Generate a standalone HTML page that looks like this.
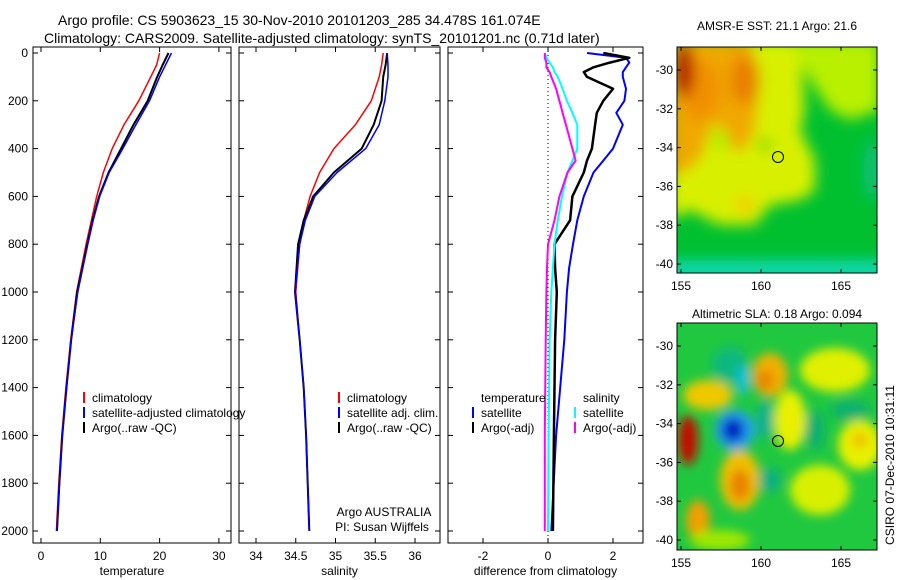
<!DOCTYPE html>
<html><head><meta charset="utf-8">
<style>
html,body{margin:0;padding:0;background:#fff}
svg{display:block;font-family:"Liberation Sans",sans-serif}
</style></head>
<body>
<svg id="fig" width="900" height="580" viewBox="0 0 900 580" xmlns="http://www.w3.org/2000/svg">
<defs>
<filter id="bl1" x="-20%" y="-20%" width="140%" height="140%"><feGaussianBlur stdDeviation="7"/></filter>
<filter id="bl2" x="-20%" y="-20%" width="140%" height="140%"><feGaussianBlur stdDeviation="5"/></filter>
<clipPath id="c1"><rect x="677" y="47" width="200" height="226"/></clipPath>
<clipPath id="c2"><rect x="677" y="323" width="200" height="227"/></clipPath>
</defs>
<text x="58" y="25" font-size="14">Argo profile: CS 5903623_15 30-Nov-2010 20101203_285 34.478S 161.074E</text>
<text x="44" y="43" font-size="14">Climatology: CARS2009. Satellite-adjusted climatology: synTS_20101201.nc (0.71d later)</text>

<g>
<g clip-path="url(#c1)">
<rect x="677" y="47" width="200" height="226" fill="#00c030"/>
<g filter="url(#bl1)">
<path d="M670 40 L800 40 L805 110 L800 130 L815 160 L815 190 L800 200 L770 205 L755 225 L720 225 L690 210 L670 220 Z" fill="#d8f000"/>
<path d="M790 40 L880 40 L880 110 L850 120 L830 110 L810 80 Z" fill="#b8f000"/>
<path d="M670 40 L750 40 L760 80 L755 130 L745 150 L730 150 L715 120 L700 160 L680 175 L670 175 Z" fill="#f0a800"/>
<ellipse cx="700" cy="90" rx="20" ry="30" fill="#f09000"/>
<ellipse cx="745" cy="80" rx="15" ry="25" fill="#e88000"/>
<ellipse cx="684" cy="70" rx="10" ry="28" fill="#b01000"/>
<ellipse cx="720" cy="140" rx="10" ry="10" fill="#b0f000"/>
<ellipse cx="765" cy="145" rx="6" ry="6" fill="#40d000"/>
<ellipse cx="745" cy="205" rx="10" ry="10" fill="#f0d000"/>
<rect x="670" y="260" width="215" height="20" fill="#10d8b0"/>
<ellipse cx="872" cy="170" rx="8" ry="30" fill="#10c080"/>
</g>
</g>
<rect x="677" y="47" width="200" height="226" fill="none" stroke="#000"/>
<circle cx="778" cy="157" r="5.5" fill="none" stroke="#000"/>
<text x="777" y="30" font-size="12" text-anchor="middle">AMSR-E SST: 21.1 Argo: 21.6</text>
</g>

<g>
<g clip-path="url(#c2)">
<rect x="677" y="323" width="200" height="227" fill="#20c840"/>
<g filter="url(#bl2)">
<ellipse cx="835" cy="370" rx="35" ry="22" fill="#e0f000"/>
<ellipse cx="770" cy="375" rx="18" ry="22" fill="#f0b000"/>
<ellipse cx="765" cy="380" rx="8" ry="10" fill="#e88000"/>
<ellipse cx="708" cy="395" rx="25" ry="15" fill="#f0c800"/>
<ellipse cx="688" cy="440" rx="10" ry="25" fill="#c01000"/>
<ellipse cx="735" cy="430" rx="20" ry="20" fill="#20a0f0"/>
<ellipse cx="733" cy="430" rx="11" ry="12" fill="#0020c0"/>
<ellipse cx="740" cy="480" rx="20" ry="30" fill="#f0c000"/>
<ellipse cx="740" cy="485" rx="10" ry="16" fill="#e88000"/>
<ellipse cx="698" cy="520" rx="12" ry="20" fill="#f0a000"/>
<ellipse cx="790" cy="420" rx="16" ry="30" fill="#e8f000"/>
<ellipse cx="860" cy="445" rx="22" ry="25" fill="#e8f000"/>
<ellipse cx="860" cy="440" rx="8" ry="8" fill="#f0c000"/>
<ellipse cx="820" cy="490" rx="30" ry="25" fill="#d8f000"/>
<ellipse cx="730" cy="365" rx="18" ry="18" fill="#10b880"/>
<ellipse cx="743" cy="380" rx="6" ry="15" fill="#10c0e0"/>
<ellipse cx="765" cy="420" rx="8" ry="20" fill="#10b090"/>
<ellipse cx="770" cy="480" rx="12" ry="12" fill="#10b080"/>
<ellipse cx="815" cy="430" rx="10" ry="20" fill="#10b070"/>
<ellipse cx="850" cy="410" rx="20" ry="10" fill="#10b070"/>
<ellipse cx="720" cy="540" rx="30" ry="10" fill="#a0e800"/>
</g>
</g>
<rect x="677" y="323" width="200" height="227" fill="none" stroke="#000"/>
<circle cx="778" cy="441" r="5.5" fill="none" stroke="#000"/>
<text x="777" y="318" font-size="12" text-anchor="middle">Altimetric SLA: 0.18 Argo: 0.094</text>
</g>
<text transform="translate(894,465) rotate(-90)" font-size="12" text-anchor="middle">CSIRO 07-Dec-2010 10:31:11</text>

<script>
const depths = [0,50,100,200,300,400,500,600,700,800,1000,1200,1400,1600,1800,2000];
const tempClim = [20,19.5,18.5,16.5,14,12,10.5,9.4,8.5,7.6,6,5,4.2,3.5,3,2.6];
const tempSat = [22,21,20,18.3,16,13.8,11.5,9.9,8.8,7.9,6.2,5.1,4.3,3.6,3.1,2.7];
const tempArgo = [21.5,20.5,19.6,18.0,15.6,13.5,11.4,9.8,8.7,7.8,6.1,5.1,4.3,3.6,3.1,2.7];
const salClim = [35.6,35.58,35.55,35.45,35.25,34.98,34.8,34.68,34.6,34.55,34.5,34.55,34.6,34.63,34.65,34.67];
const salSat = [35.65,35.66,35.66,35.62,35.55,35.38,35.02,34.74,34.62,34.55,34.49,34.55,34.6,34.63,34.65,34.67];
const salArgo = [35.65,35.63,35.6,35.58,35.48,35.33,34.98,34.72,34.6,34.53,34.49,34.55,34.6,34.63,34.65,34.67];
const diffDepths = [0,20,40,60,80,100,150,200,250,300,400,450,500,600,700,800,900,1000,1200,1600,2000];
const diffTSat = [1.2,2.4,2.5,2.4,2.3,2.3,2.4,2.35,2.1,2.3,2.0,1.7,1.4,1.1,0.9,0.77,0.65,0.58,0.5,0.25,0.1];
const diffTArgo = [1.7,2.5,1.9,1.4,1.1,1.2,2.0,1.7,1.5,1.45,1.35,1.2,1.1,0.75,0.68,0.2,0.22,0.27,0.22,0.18,0.15];
const diffSSat = [-0.1,-0.05,0.05,0.15,0.2,0.3,0.45,0.58,0.75,0.9,0.9,0.75,0.6,0.43,0.3,0.2,0.15,0.1,0.05,0.02,0.0];
const diffSArgo = [-0.1,-0.1,-0.05,-0.05,0.05,0.1,0.25,0.35,0.45,0.55,0.75,0.85,0.6,0.35,0.2,0.0,-0.03,-0.05,-0.07,-0.1,-0.1];
const depthTicks = [0,200,400,600,800,1000,1200,1400,1600,1800,2000];
const tempTicks = [0,10,20,30];
const salTicks = [34,34.5,35,35.5,36];
const diffTicks = [-2,0,2];
const lonTicks = [155,160,165];
const latTicks = [-30,-32,-34,-36,-38,-40];

const NS = "http://www.w3.org/2000/svg";
const svg = document.getElementById('fig');
function el(tag, attrs, parent){const e=document.createElementNS(NS,tag);for(const k in attrs)e.setAttribute(k,attrs[k]);(parent||svg).appendChild(e);return e;}
const yD = d => 53 + d*0.239;
const yTop=47,yBot=543;
const panels = [
 {name:'temperature-panel', x0:33, x1:231, xs:v=>41+v*5.93, ticks:tempTicks, label:'temperature'},
 {name:'salinity-panel', x0:239, x1:440, xs:v=>256+(v-34)*79.5, ticks:salTicks, label:'salinity'},
 {name:'difference-panel', x0:448, x1:643, xs:v=>548+v*32.5, ticks:diffTicks, label:'difference from climatology'}
];
panels.forEach((p,i)=>{
  const g = el('g',{});
  
  
  el('rect',{x:p.x0,y:yTop,width:p.x1-p.x0,height:yBot-yTop,fill:'none',stroke:'#000'},g);
  p.ticks.forEach(t=>{
    const x=p.xs(t);
    el('line',{x1:x,x2:x,y1:yBot,y2:yBot-5,stroke:'#000'},g);
    el('line',{x1:x,x2:x,y1:yTop,y2:yTop+5,stroke:'#000'},g);
    const tx=el('text',{x:x,y:yBot+17,'font-size':12,'text-anchor':'middle'},g);
    tx.textContent=String(t);
    
    
  });
  depthTicks.forEach(d=>{
    const y=yD(d);
    el('line',{x1:p.x0,x2:p.x0+5,y1:y,y2:y,stroke:'#000'},g);
    el('line',{x1:p.x1,x2:p.x1-5,y1:y,y2:y,stroke:'#000'},g);
    if(i===0){
      const tx=el('text',{x:28,y:y+4,'font-size':12,'text-anchor':'end'},g);
      tx.textContent=String(d);
      
      
    }
  });
  const xl=el('text',{x:(p.x0+p.x1)/2,y:575,'font-size':12,'text-anchor':'middle'},g);
  xl.textContent=p.label;
  
  
  p.g=g;
});
function line(p, ds, vals, color, w, name){
  const pts = ds.map((d,k)=>p.xs(vals[k]).toFixed(1)+','+yD(d).toFixed(1)).join(' ');
  const pl = el('polyline',{points:pts,fill:'none',stroke:color,'stroke-width':w,'stroke-linejoin':'round'},p.g);
  
  
}
line(panels[0],depths,tempClim,'#f00',1.5,'temp-climatology-line');
line(panels[0],depths,tempArgo,'#000',2,'temp-argo-line');
line(panels[0],depths,tempSat,'#00f',1.5,'temp-satellite-line');
line(panels[1],depths,salClim,'#f00',1.5,'sal-climatology-line');
line(panels[1],depths,salArgo,'#000',2,'sal-argo-line');
line(panels[1],depths,salSat,'#00f',1.5,'sal-satellite-line');
const dp=panels[2];
const zl=el('line',{x1:dp.xs(0),x2:dp.xs(0),y1:yTop,y2:yBot,stroke:'#000','stroke-dasharray':'1,3'},dp.g);


line(dp,diffDepths,diffTSat,'#00f',2,'diff-temp-satellite-line');
line(dp,diffDepths,diffTArgo,'#000',2.5,'diff-temp-argo-line');
line(dp,diffDepths,diffSSat,'#0ff',2,'diff-sal-satellite-line');
line(dp,diffDepths,diffSArgo,'#f0f',2,'diff-sal-argo-line');

function legend(g, x, y, items){
  items.forEach((it,k)=>{
    const yy=y+k*15;
    if(it.c){const m=el('line',{x1:x,x2:x,y1:yy-10,y2:yy+1,stroke:it.c,'stroke-width':2},g);
      
      }
    const t=el('text',{x:x+8,y:yy,'font-size':12},g);
    t.textContent=it.t;
    
    
  });
}
legend(panels[0].g,84,402,[{t:'climatology',c:'#f00'},{t:'satellite-adjusted climatology',c:'#00f'},{t:'Argo(..raw -QC)',c:'#000'}]);
legend(panels[1].g,339,402,[{t:'climatology',c:'#f00'},{t:'satellite adj. clim.',c:'#00f'},{t:'Argo(..raw -QC)',c:'#000'}]);
legend(dp.g,473,402,[{t:'temperature'},{t:'satellite',c:'#00f'},{t:'Argo(-adj)',c:'#000'}]);
legend(dp.g,575,402,[{t:'salinity'},{t:'satellite',c:'#0ff'},{t:'Argo(-adj)',c:'#f0f'}]);
const a1=el('text',{x:384,y:516,'font-size':12,'text-anchor':'middle'},panels[1].g);a1.textContent='Argo AUSTRALIA';


const a2=el('text',{x:382,y:531,'font-size':12,'text-anchor':'middle'},panels[1].g);a2.textContent='PI: Susan Wijffels';



[[47,273],[323,550]].forEach(([t,b],m)=>{
  const lx=v=>681+(v-155)*16;
  const ly=v=>t+23+(-30-v)*19.4;
  lonTicks.forEach(v=>{
    const x=lx(v);
    el('line',{x1:x,x2:x,y1:b,y2:b-4,stroke:'#000'});
    el('line',{x1:x,x2:x,y1:t,y2:t+4,stroke:'#000'});
    const tx=el('text',{x:x,y:b+17,'font-size':12,'text-anchor':'middle'});
    tx.textContent=String(v);
    
    
  });
  latTicks.forEach(v=>{
    const y=ly(v);
    el('line',{x1:677,x2:681,y1:y,y2:y,stroke:'#000'});
    el('line',{x1:877,x2:873,y1:y,y2:y,stroke:'#000'});
    const tx=el('text',{x:673,y:y+4,'font-size':12,'text-anchor':'end'});
    tx.textContent=String(v);
    
    
  });
});
</script>
</svg>
</body></html>
